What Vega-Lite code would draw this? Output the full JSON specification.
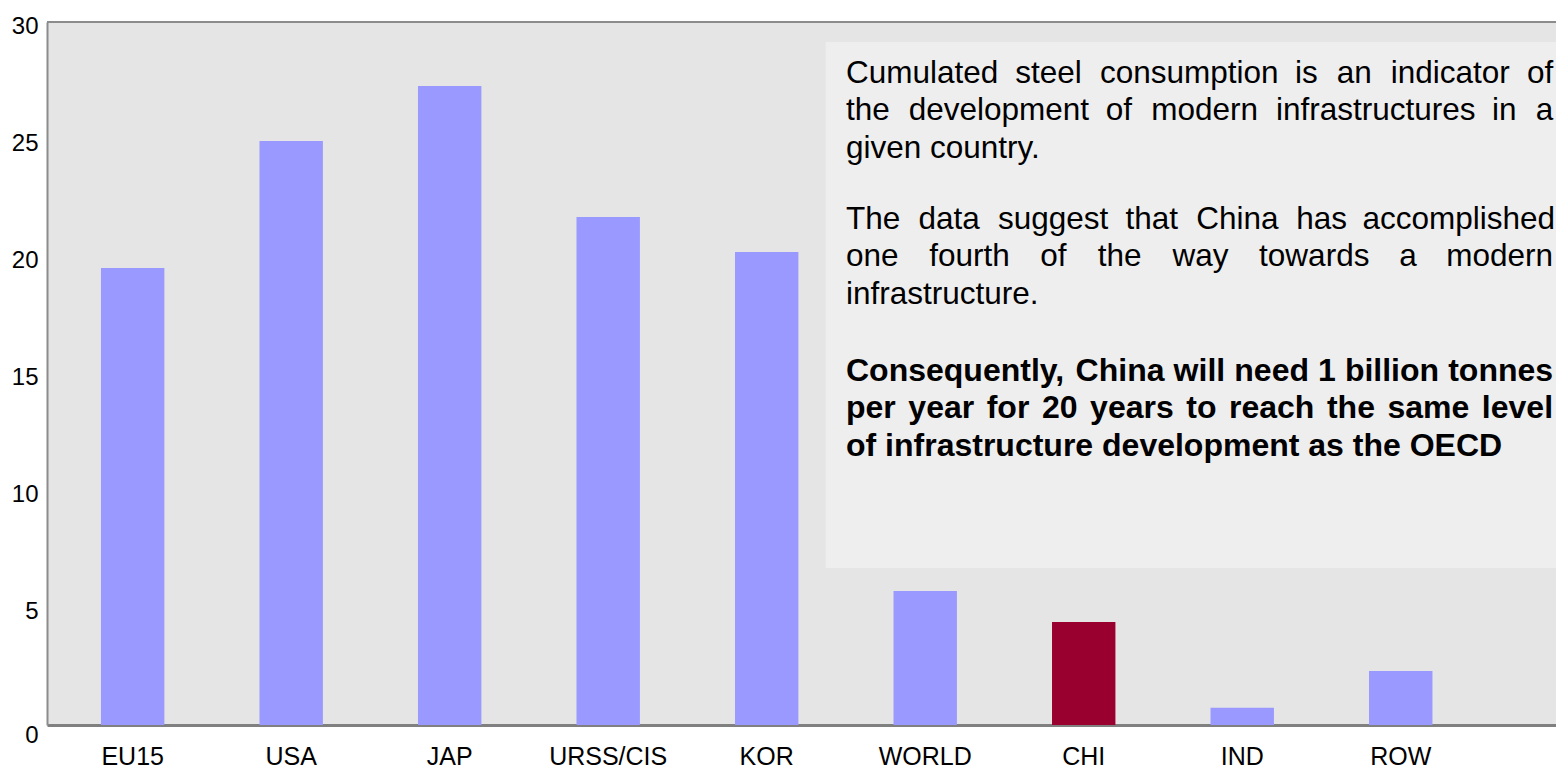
{
  "$schema": "https://vega.github.io/schema/vega-lite/v6.json",
  "width": 1509,
  "height": 703,
  "autosize": {"type": "none"},
  "padding": {"left": 47, "top": 22, "right": 0, "bottom": 44},
  "background": "white",
  "config": {"view": {"fill": "#e5e5e5", "stroke": null}, "font": "Liberation Sans"},
  "datasets": {
    "steel": [
      {"region": "EU15", "value": 19.5},
      {"region": "USA", "value": 24.92},
      {"region": "JAP", "value": 27.27},
      {"region": "URSS/CIS", "value": 21.68},
      {"region": "KOR", "value": 20.19},
      {"region": "WORLD", "value": 5.72},
      {"region": "CHI", "value": 4.4},
      {"region": "IND", "value": 0.74},
      {"region": "ROW", "value": 2.3}
    ],
    "note": [
      {"t": "Cumulated", "x": 0.52949, "y": 27.4, "part": "body"},
      {"t": "steel", "x": 0.64162, "y": 27.4, "part": "body"},
      {"t": "consumption", "x": 0.69781, "y": 27.4, "part": "body"},
      {"t": "is", "x": 0.8271, "y": 27.4, "part": "body"},
      {"t": "an", "x": 0.85474, "y": 27.4, "part": "body"},
      {"t": "indicator", "x": 0.89046, "y": 27.4, "part": "body"},
      {"t": "of", "x": 0.98085, "y": 27.4, "part": "body"},
      {"t": "the", "x": 0.52949, "y": 25.8, "part": "body"},
      {"t": "development", "x": 0.57104, "y": 25.8, "part": "body"},
      {"t": "of", "x": 0.70166, "y": 25.8, "part": "body"},
      {"t": "modern", "x": 0.73181, "y": 25.8, "part": "body"},
      {"t": "infrastructures", "x": 0.81445, "y": 25.8, "part": "body"},
      {"t": "in", "x": 0.95759, "y": 25.8, "part": "body"},
      {"t": "a", "x": 0.98661, "y": 25.8, "part": "body"},
      {"t": "given country.", "x": 0.52949, "y": 24.2, "part": "body"},
      {"t": "The", "x": 0.52949, "y": 21.17, "part": "body"},
      {"t": "data", "x": 0.57754, "y": 21.17, "part": "body"},
      {"t": "suggest", "x": 0.63015, "y": 21.17, "part": "body"},
      {"t": "that", "x": 0.71471, "y": 21.17, "part": "body"},
      {"t": "China", "x": 0.76163, "y": 21.17, "part": "body"},
      {"t": "has", "x": 0.8279, "y": 21.17, "part": "body"},
      {"t": "accomplished", "x": 0.87177, "y": 21.17, "part": "body"},
      {"t": "one", "x": 0.52949, "y": 19.57, "part": "body"},
      {"t": "fourth", "x": 0.58469, "y": 19.57, "part": "body"},
      {"t": "of", "x": 0.65818, "y": 19.57, "part": "body"},
      {"t": "the", "x": 0.69629, "y": 19.57, "part": "body"},
      {"t": "way", "x": 0.74579, "y": 19.57, "part": "body"},
      {"t": "towards", "x": 0.80325, "y": 19.57, "part": "body"},
      {"t": "a", "x": 0.89609, "y": 19.57, "part": "body"},
      {"t": "modern", "x": 0.92724, "y": 19.57, "part": "body"},
      {"t": "infrastructure.", "x": 0.52949, "y": 17.97, "part": "body"},
      {"t": "Consequently,", "x": 0.52949, "y": 14.68, "part": "conclusion"},
      {"t": "China", "x": 0.68164, "y": 14.68, "part": "conclusion"},
      {"t": "will", "x": 0.74659, "y": 14.68, "part": "conclusion"},
      {"t": "need", "x": 0.78681, "y": 14.68, "part": "conclusion"},
      {"t": "1", "x": 0.84228, "y": 14.68, "part": "conclusion"},
      {"t": "billion", "x": 0.86011, "y": 14.68, "part": "conclusion"},
      {"t": "tonnes", "x": 0.92856, "y": 14.68, "part": "conclusion"},
      {"t": "per", "x": 0.52949, "y": 13.08, "part": "conclusion"},
      {"t": "year", "x": 0.57081, "y": 13.08, "part": "conclusion"},
      {"t": "for", "x": 0.62273, "y": 13.08, "part": "conclusion"},
      {"t": "20", "x": 0.65934, "y": 13.08, "part": "conclusion"},
      {"t": "years", "x": 0.69125, "y": 13.08, "part": "conclusion"},
      {"t": "to", "x": 0.75497, "y": 13.08, "part": "conclusion"},
      {"t": "reach", "x": 0.7833, "y": 13.08, "part": "conclusion"},
      {"t": "the", "x": 0.84821, "y": 13.08, "part": "conclusion"},
      {"t": "same", "x": 0.88834, "y": 13.08, "part": "conclusion"},
      {"t": "level", "x": 0.95086, "y": 13.08, "part": "conclusion"},
      {"t": "of infrastructure development as the OECD", "x": 0.52949, "y": 11.48, "part": "conclusion"}
    ]
  },
  "layer": [
    {
      "data": {"name": "steel"},
      "mark": {"type": "bar"},
      "encoding": {
        "x": {
          "field": "region", "type": "nominal", "sort": null,
          "scale": {"paddingInner": 0.6, "paddingOuter": 0.56, "align": 0.304},
          "axis": {"ticks": false, "title": null, "domainColor": "#808080", "domainWidth": 3, "labelFontSize": 25, "labelColor": "black", "labelPadding": 19, "labelAngle": 0, "labelFont": "Liberation Sans"}
        },
        "y": {
          "field": "value", "type": "quantitative",
          "scale": {"domain": [0, 30], "nice": false},
          "axis": {"values": [0, 5, 10, 15, 20, 25, 30], "ticks": false, "grid": false, "title": null, "domainColor": "#8c8c8c", "domainWidth": 2, "labelFontSize": 24, "labelColor": "black", "labelPadding": 9, "labelFont": "Liberation Sans", "labelOffset": {"condition": {"test": "datum.value === 0", "value": 10}, "value": 4}}
        },
        "color": {"condition": {"test": "datum.region === 'CHI'", "value": "#990030"}, "value": "#9999ff"}
      }
    },
    {
      "data": {"values": [{}]},
      "mark": {"type": "rect", "color": "#eeeeee"},
      "encoding": {
        "x": {"datum": 0.516, "type": "quantitative", "scale": {"domain": [0, 1], "nice": false, "zero": false}, "axis": null},
        "x2": {"datum": 1},
        "y": {"datum": 6.7, "type": "quantitative"},
        "y2": {"datum": 29.15}
      }
    },
    {
      "data": {"name": "note"},
      "transform": [{"filter": "datum.part === 'body'"}],
      "mark": {"type": "text", "align": "left", "baseline": "alphabetic", "fontSize": 31.5, "font": "Liberation Sans", "color": "black"},
      "encoding": {
        "x": {"field": "x", "type": "quantitative", "scale": {"domain": [0, 1], "nice": false, "zero": false}, "axis": null},
        "y": {"field": "y", "type": "quantitative"},
        "text": {"field": "t"}
      }
    },
    {
      "data": {"name": "note"},
      "transform": [{"filter": "datum.part === 'conclusion'"}],
      "mark": {"type": "text", "align": "left", "baseline": "alphabetic", "fontSize": 32, "font": "Liberation Sans", "fontWeight": "bold", "color": "black"},
      "encoding": {
        "x": {"field": "x", "type": "quantitative", "scale": {"domain": [0, 1], "nice": false, "zero": false}, "axis": null},
        "y": {"field": "y", "type": "quantitative"},
        "text": {"field": "t"}
      }
    },
    {
      "data": {"values": [{}]},
      "mark": {"type": "rule", "color": "#8c8c8c", "strokeWidth": 2},
      "encoding": {"y": {"datum": 30, "type": "quantitative"}}
    }
  ],
  "resolve": {"scale": {"x": "independent"}}
}
